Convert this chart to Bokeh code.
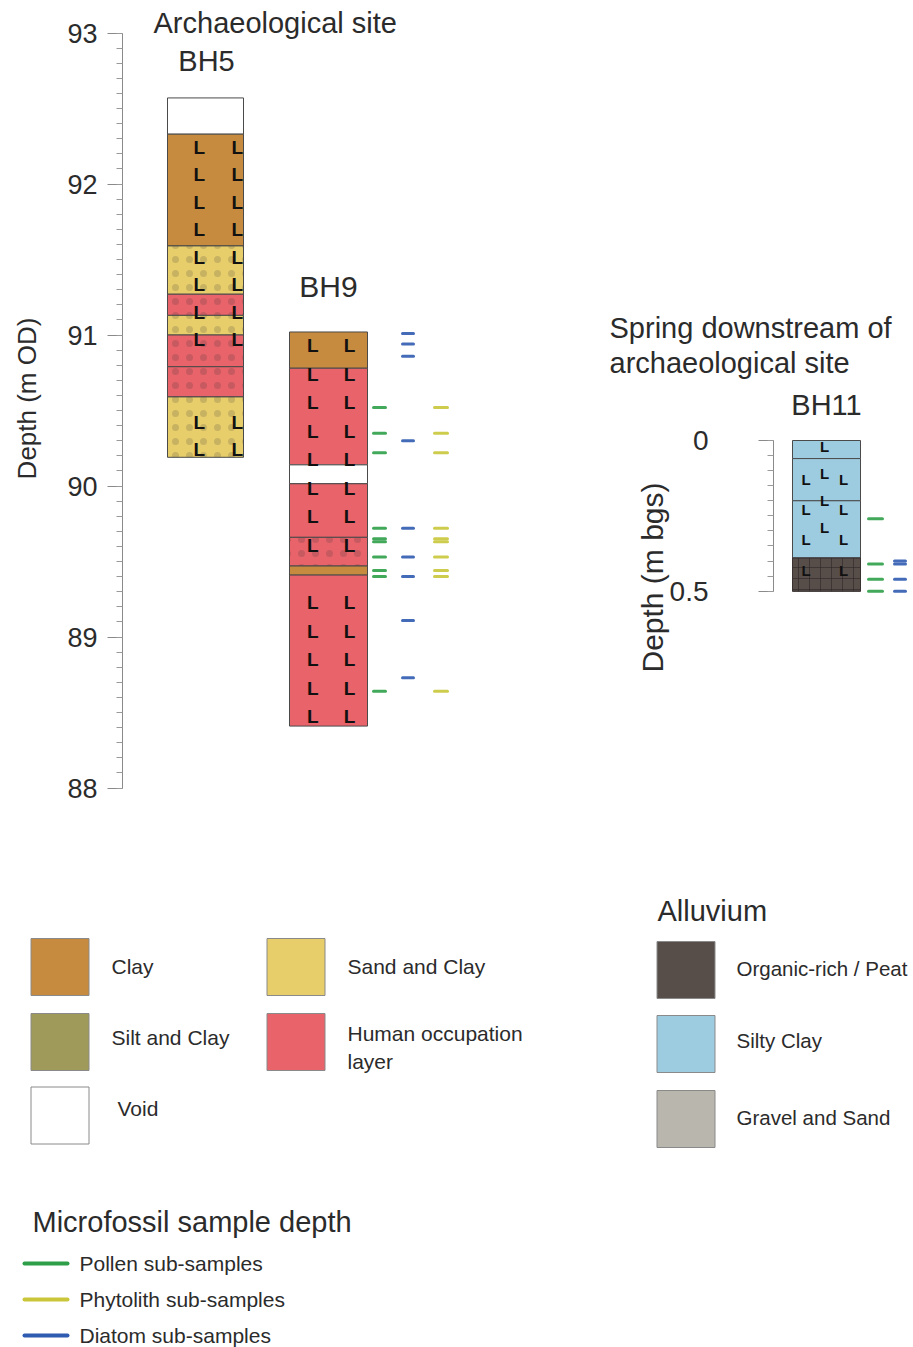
import numpy as np
from bokeh.plotting import figure
from bokeh.models import Range1d, LinearAxis, SingleIntervalTicker, FixedTicker, ColumnDataSource
from bokeh.core.properties import value
from bokeh.embed import file_html
from bokeh.resources import INLINE

FONT = "Liberation Sans"
TXT = "#2b2b2b"

# ---------------- data ----------------
# BH5 (m OD)
bh5_top = [92.57, 92.33, 91.59, 91.27, 91.13, 91.00, 90.79, 90.59]
bh5_bottom = [92.33, 91.59, 91.27, 91.13, 91.00, 90.79, 90.59, 90.19]
bh5_unit = ["Void", "Clay", "Sand and Clay", "Human occupation layer", "Sand and Clay",
            "Human occupation layer", "Human occupation layer", "Sand and Clay"]
bh5_speckled = [False, False, True, True, True, True, True, True]

# BH9 (m OD)
bh9_top = [91.02, 90.78, 90.14, 90.015, 89.66, 89.47, 89.41]
bh9_bottom = [90.78, 90.14, 90.015, 89.66, 89.47, 89.41, 88.41]
bh9_unit = ["Clay", "Human occupation layer", "Void", "Human occupation layer",
            "Human occupation layer", "Clay", "Human occupation layer"]
bh9_speckled = [False, False, False, False, True, False, False]

# BH11 (m bgs)
bh11_top = [0.00, 0.06, 0.20, 0.39]
bh11_bottom = [0.06, 0.20, 0.39, 0.50]
bh11_unit = ["Silty Clay", "Silty Clay", "Silty Clay", "Organic-rich / Peat"]

# microfossil sub-sample depths
bh9_pollen = [90.52, 90.35, 90.22, 89.72, 89.65, 89.63, 89.53, 89.44, 89.40, 88.64]
bh9_phytolith = [90.52, 90.35, 90.22, 89.72, 89.65, 89.63, 89.53, 89.44, 89.40, 88.64]
bh9_diatom = [91.01, 90.94, 90.86, 90.30, 89.72, 89.53, 89.40, 89.11, 88.73]
bh11_pollen = [0.26, 0.41, 0.46, 0.50]
bh11_diatom = [0.40, 0.41, 0.46, 0.50]

site_legend = ["Clay", "Sand and Clay", "Silt and Clay", "Human occupation layer", "Void"]
site_legend_text = ["Clay", "Sand and Clay", "Silt and Clay", "Human occupation\nlayer", "Void"]
alluvium_legend = ["Organic-rich / Peat", "Silty Clay", "Gravel and Sand"]
sample_legend = ["Pollen sub-samples", "Phytolith sub-samples", "Diatom sub-samples"]

main_ticks_interval = 1
bh11_major_ticks = [0, 0.5]

# ---------------- styles ----------------
unit_colors = {
    "Clay": "#C68B3E",
    "Sand and Clay": "#E8CE6B",
    "Silt and Clay": "#A09A5A",
    "Human occupation layer": "#E8636A",
    "Void": "#FFFFFF",
    "Organic-rich / Peat": "#574E4A",
    "Silty Clay": "#9DCCE0",
    "Gravel and Sand": "#B9B6AE",
}
sample_colors = {"Pollen sub-samples": "#2E9E48",
                 "Phytolith sub-samples": "#C9C63A",
                 "Diatom sub-samples": "#2F5BB0"}

# ---------------- figure ----------------
W, H = 913, 1347
PXM = 151.0          # px per metre, 93 m OD at y=32.5
y_top = 93 + 32.5 / PXM
y_bot = 93 - (H - 32.5) / PXM
PXB = 301.4          # px per metre, 0 m bgs at y=440
b_top = -440 / PXB
b_bot = (H - 440) / PXB

p = figure(width=W, height=H, output_backend="svg", toolbar_location=None,
           x_range=Range1d(0, W), y_range=Range1d(y_bot, y_top),
           x_axis_location=None, y_axis_location=None,
           min_border=0, min_border_left=0, min_border_right=0,
           min_border_top=0, min_border_bottom=0)
p.outline_line_color = None
p.xgrid.visible = False
p.ygrid.visible = False
p.background_fill_color = "white"
p.border_fill_color = "white"
p.extra_y_ranges = {"bh11": Range1d(start=b_bot, end=b_top),
                    "px": Range1d(start=H, end=0)}

# axes
ax1 = LinearAxis(fixed_location=122, bounds=(88, 93),
                 ticker=SingleIntervalTicker(interval=main_ticks_interval, num_minor_ticks=10))
ax2 = LinearAxis(fixed_location=773, bounds=(0, 0.5), y_range_name="bh11",
                 ticker=FixedTicker(ticks=bh11_major_ticks,
                                    minor_ticks=[round(0.05 * i, 2) for i in range(11)]),
                 major_label_overrides={0: "0", 0.5: "0.5"})
for ax, size, standoff in ((ax1, "27px", 10), (ax2, "28px", 50)):
    ax.axis_line_color = "#8a8a8a"
    ax.major_tick_line_color = "#8a8a8a"
    ax.minor_tick_line_color = "#9a9a9a"
    ax.major_tick_in = 0
    ax.major_tick_out = 15
    ax.minor_tick_in = 0
    ax.minor_tick_out = 6
    ax.major_label_text_font = FONT
    ax.major_label_text_font_size = size
    ax.major_label_text_color = TXT
    ax.major_label_standoff = standoff
    p.add_layout(ax, "left")

# column positions (px)
COLS = {"BH5": (167, 243), "BH9": (289, 367), "BH11": (792, 860)}


def add_column(name, top, bottom, units, speckled, rng=None):
    l, r = COLS[name]
    n = len(top)
    src = ColumnDataSource(dict(left=[l] * n, right=[r] * n, top=top, bottom=bottom,
                                color=[unit_colors[u] for u in units],
                                hatch=["dot" if s else " " for s in speckled]))
    kw = {"y_range_name": rng} if rng else {}
    p.quad(left="left", right="right", top="top", bottom="bottom", source=src,
           fill_color="color", line_color="#4a4a4a", line_width=1,
           hatch_pattern="hatch", hatch_color="#333333", hatch_alpha=0.18,
           hatch_scale=14, hatch_weight=1, **kw)


add_column("BH5", bh5_top, bh5_bottom, bh5_unit, bh5_speckled)
add_column("BH9", bh9_top, bh9_bottom, bh9_unit, bh9_speckled)
add_column("BH11", bh11_top, bh11_bottom, bh11_unit,
           [False] * len(bh11_unit), rng="bh11")
# peat pattern
pl, pr = COLS["BH11"]
p.quad(left=[pl], right=[pr], top=[bh11_top[3]], bottom=[bh11_bottom[3]],
       fill_alpha=0, line_color="#3a3230", hatch_pattern="cross",
       hatch_color="#2c2624", hatch_alpha=0.6, hatch_scale=11, hatch_weight=1,
       y_range_name="bh11")


# "L" lithology symbols (decoration)
def l_marks(name, top, bottom, units, fx, step):
    l, r = COLS[name]
    xs, ys = [], []
    solid = [(t, b) for t, b, u in zip(top, bottom, units) if u != "Void"]
    start = solid[0][0] - step * 0.48
    for d in np.arange(start, min(bottom), -step):
        if any(b + 0.02 < d < t - 0.02 for t, b in solid):
            for f in fx:
                xs.append(l + f * (r - l))
                ys.append(d)
    return xs, ys


x5, y5 = l_marks("BH5", bh5_top, bh5_bottom, bh5_unit, (0.42, 0.92), 0.182)
x9, y9 = l_marks("BH9", bh9_top, bh9_bottom, bh9_unit, (0.30, 0.77), 0.189)
p.text(x=x5 + x9, y=y5 + y9, text=["L"] * (len(x5) + len(x9)),
       text_font=value(FONT), text_font_style="bold", text_font_size="19px",
       text_color="#111111", text_align="center", text_baseline="middle")

# BH11 L marks (staggered)
bx, by = [], []
for d in np.arange(0.13, 0.46, 0.1):
    for f in (0.2, 0.75):
        bx.append(pl + f * (pr - pl)); by.append(d)
for d in np.arange(0.02, 0.36, 0.09):
    bx.append(pl + 0.47 * (pr - pl)); by.append(d)
p.text(x=bx, y=by, text=["L"] * len(bx), y_range_name="bh11",
       text_font=value(FONT), text_font_style="bold", text_font_size="15px",
       text_color="#111111", text_align="center", text_baseline="middle")


# sub-sample markers
def markers(depths, x0, x1, color, rng=None):
    kw = {"y_range_name": rng} if rng else {}
    p.segment(x0=[x0] * len(depths), x1=[x1] * len(depths), y0=depths, y1=depths,
              line_color=color, line_width=3, line_cap="round", line_alpha=0.9, **kw)


markers(bh9_pollen, 373, 385, sample_colors["Pollen sub-samples"])
markers(bh9_diatom, 402, 413, sample_colors["Diatom sub-samples"])
markers(bh9_phytolith, 434, 447, sample_colors["Phytolith sub-samples"])
markers(bh11_pollen, 868, 882, sample_colors["Pollen sub-samples"], "bh11")
markers(bh11_diatom, 894, 905, sample_colors["Diatom sub-samples"], "bh11")


# ---------------- texts (px coords) ----------------
def txt(x, y, s, size, align="left", angle=0, lh=1.2):
    p.text(x=[x], y=[y], text=[s], y_range_name="px", angle=angle,
           text_font=value(FONT), text_font_size=size, text_color=TXT,
           text_align=align, text_baseline="middle", text_line_height=lh)


txt(153, 22, "Archaeological site", "29px")
txt(206, 60, "BH5", "29px", "center")
txt(328, 286, "BH9", "30px", "center")
txt(609, 327, "Spring downstream of", "29px")
txt(609, 362, "archaeological site", "29px")
txt(826, 404, "BH11", "29px", "center")
txt(26, 398, "Depth (m OD)", "26px", "center", np.pi / 2)
txt(652, 577, "Depth (m bgs)", "30px", "center", np.pi / 2)

# ---------------- legends ----------------
sq_x = [59.5, 295.5, 59.5, 295.5, 59.5]
sq_y = [966.5, 966.5, 1041.5, 1041.5, 1115.0]
p.rect(x=sq_x, y=sq_y, width=58, height=57, y_range_name="px",
       fill_color=[unit_colors[u] for u in site_legend], line_color="#8a8a8a", line_width=1)
for xx, yy, s in zip([111, 347, 111, 347, 117], [966, 966, 1037, 1047, 1108], site_legend_text):
    txt(xx, yy, s, "21px", lh=1.25)

txt(657, 910, "Alluvium", "29px")
al_y = [969.5, 1043.5, 1118.5]
p.rect(x=[685.5] * 3, y=al_y, width=58, height=57, y_range_name="px",
       fill_color=[unit_colors[u] for u in alluvium_legend], line_color="#8a8a8a", line_width=1)
for yy, s in zip([968, 1040, 1117], alluvium_legend):
    txt(736, yy, s, "20.5px")

txt(32, 1221, "Microfossil sample depth", "29px")
ly = [1263, 1299, 1335]
p.segment(x0=[24] * 3, x1=[67] * 3, y0=ly, y1=ly, y_range_name="px",
          line_color=[sample_colors[s] for s in sample_legend], line_width=4, line_cap="round")
for yy, s in zip(ly, sample_legend):
    txt(79, yy, s, "21px")

open("out.html", "w").write(file_html(p, INLINE))
